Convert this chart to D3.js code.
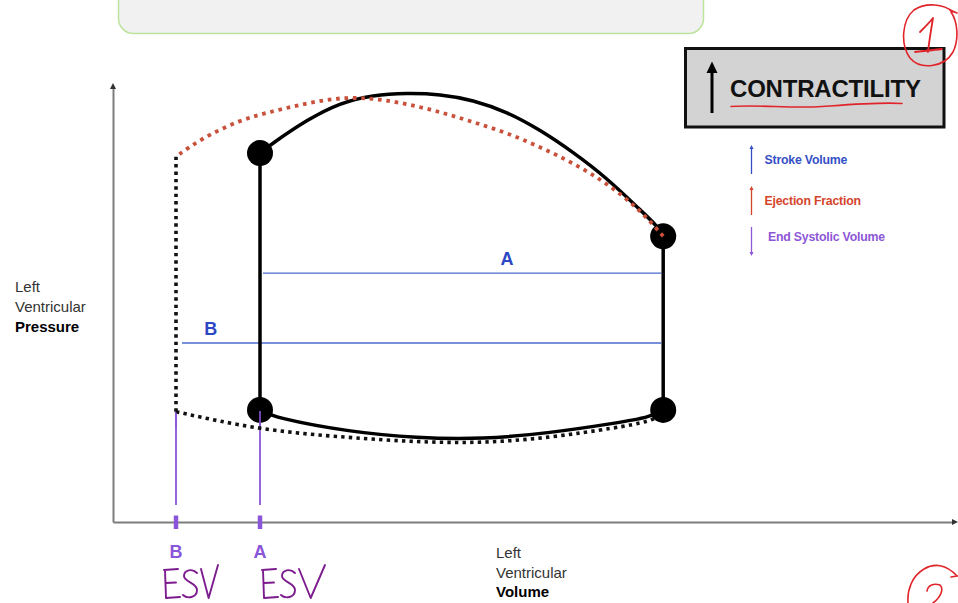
<!DOCTYPE html>
<html>
<head>
<meta charset="utf-8">
<script src="https://cdn.jsdelivr.net/npm/d3@7"></script>
<style>
  html, body { margin: 0; padding: 0; background: #ffffff; }
  svg { display: block; }
  text { font-family: "Liberation Sans", Arial, Helvetica, sans-serif; }
</style>
</head>
<body>
<svg id="chart" width="958" height="603"></svg>
<script>
// Pressure–volume loops: baseline loop (A) and loop after increased contractility (B)
const volumeDomain = [0, 200];
const pressureDomain = [0, 120];

const esvA = 35;          // end-systolic volume, loop A
const esvB = 15;          // end-systolic volume, loop B
const edv = 131;          // end-diastolic volume (shared)
const espA = 102;         // end-systolic pressure, loop A
const espB = 101;         // end-systolic pressure, loop B
const edpA = 31;          // end-diastolic pressure, loop A
const edpB = 30.5;        // pressure at start of filling, loop B
const aorticOpen = 79;    // pressure where ejection begins

// Ejection phase (from EDV towards ESV), [volume, pressure]
const ejectionA = [[131, 79], [129.8, 81.6], [125.5, 86.3], [117.6, 95.1], [109.5, 102.3],
  [101.7, 108.4], [93.8, 113.4], [85.7, 116.7], [77.9, 118.3], [70.0, 118.6],
  [61.9, 118.1], [54.0, 115.9], [46.2, 111.2], [38.1, 104.8], [35, 102]];
const ejectionB = [[131, 79], [125.5, 86.3], [117.6, 93.7], [109.5, 99.3], [101.7, 103.7],
  [93.8, 107.6], [85.7, 110.6], [77.9, 113.4], [70.0, 115.6], [61.9, 117.2],
  [54.0, 117.4], [46.2, 115.8], [38.1, 113.6], [30.2, 111.2], [20.7, 105.8], [15, 101]];

// Filling phase (from ESV towards EDV), [volume, pressure]
const fillingA = [[35, 31], [38.6, 28.8], [56.4, 24.9], [72.4, 23.2], [88.1, 22.9],
  [104.0, 24.6], [120.0, 27.4], [127.9, 29.0], [131, 31]];
const fillingB = [[15, 30.5], [35, 25.4], [56.4, 23.3], [72.4, 22.1], [88.1, 21.8],
  [104.0, 23.3], [120.0, 26.1], [127.9, 27.8], [131, 29.9]];

// Stroke volume bars drawn across each loop
const svLabels = ["A", "B"];
const svStart = [esvA, esvB];
const svPressure = [68.8, 49.5];
const svLabelVolume = [93.8, 23.3];

// ESV markers on the volume axis
const esvLabels = ["B", "A"];
const esvValues = [esvB, esvA];
const esvMarkerTop = [edpB, edpA];
const esvMarkerBottom = 4.7;

// Effects of increased contractility
const effectLabels = ["Stroke Volume", "Ejection Fraction", "End Systolic Volume"];
const effectDirection = ["up", "up", "down"];
const effectColors = ["#3550c6", "#d4452c", "#8d57d6"];

const yLabelLines = ["Left", "Ventricular", "Pressure"];
const xLabelLines = ["Left", "Ventricular", "Volume"];

const svg = d3.select("#chart");

const x = d3.scaleLinear().domain(volumeDomain).range([113, 953]);
const y = d3.scaleLinear().domain(pressureDomain).range([522, 88]);

// Header panel at the top
svg.append("rect")
  .attr("x", 118.5).attr("y", -20).attr("width", 585).attr("height", 53.5)
  .attr("rx", 15).attr("ry", 15)
  .attr("fill", "#f1f1f1").attr("stroke", "#bde39c").attr("stroke-width", 1.5);

// Axes (no ticks, arrowed ends)
const axisG = svg.append("g");
axisG.append("g").attr("transform", `translate(0,${y(0)})`)
  .call(d3.axisBottom(x).tickValues([]).tickSizeOuter(0))
  .select(".domain").attr("stroke", "#7d7d7d").attr("stroke-width", 2);
axisG.append("g").attr("transform", `translate(${x(0)},0)`)
  .call(d3.axisLeft(y).tickValues([]).tickSizeOuter(0))
  .select(".domain").attr("stroke", "#7d7d7d").attr("stroke-width", 2);
axisG.append("path")
  .attr("d", `M${x(0) - 3},${y(pressureDomain[1]) + 1} L${x(0)},${y(pressureDomain[1]) - 5} L${x(0) + 3},${y(pressureDomain[1]) + 1} Z`)
  .attr("fill", "#333");
axisG.append("path")
  .attr("d", `M${x(volumeDomain[1]) - 1},${y(0) - 3} L${x(volumeDomain[1]) + 5},${y(0)} L${x(volumeDomain[1]) - 1},${y(0) + 3} Z`)
  .attr("fill", "#333");

// Axis titles
const yTitle = svg.append("text").attr("x", 15).attr("y", 292).attr("font-size", 15);
yLabelLines.forEach((t, i) => {
  yTitle.append("tspan").attr("x", 15).attr("dy", i === 0 ? 0 : 20)
    .attr("fill", i === 2 ? "#000" : "#333")
    .attr("font-weight", i === 2 ? "bold" : "normal").text(t);
});
const xTitle = svg.append("text").attr("x", 496).attr("y", 558).attr("font-size", 15);
xLabelLines.forEach((t, i) => {
  xTitle.append("tspan").attr("x", 496).attr("dy", i === 0 ? 0 : 19.5)
    .attr("fill", i === 2 ? "#000" : "#333")
    .attr("font-weight", i === 2 ? "bold" : "normal").text(t);
});

// ESV markers (purple)
const purple = "#8b55d9";
esvValues.forEach((v, i) => {
  svg.append("line")
    .attr("x1", x(v)).attr("x2", x(v))
    .attr("y1", y(esvMarkerTop[i])).attr("y2", y(esvMarkerBottom))
    .attr("stroke", purple).attr("stroke-width", 1.8);
  svg.append("line")
    .attr("x1", x(v)).attr("x2", x(v))
    .attr("y1", y(0) - 6.5).attr("y2", y(0) + 7)
    .attr("stroke", purple).attr("stroke-width", 4.5);
  svg.append("text")
    .attr("x", x(v)).attr("y", 558).attr("text-anchor", "middle")
    .attr("font-size", 18).attr("font-weight", "bold").attr("fill", purple)
    .text(esvLabels[i]);
});

// Stroke volume bars (blue)
const svColor = "#4a6bd0";
svLabels.forEach((lab, i) => {
  svg.append("line")
    .attr("x1", x(svStart[i]) + (i === 0 ? 3 : 6)).attr("x2", x(edv) - 2)
    .attr("y1", y(svPressure[i])).attr("y2", y(svPressure[i]))
    .attr("stroke", svColor).attr("stroke-width", 1.4);
  svg.append("text")
    .attr("x", x(svLabelVolume[i])).attr("y", y(svPressure[i]) - 8)
    .attr("text-anchor", "middle").attr("font-size", 18).attr("font-weight", "bold")
    .attr("fill", "#2c48c4").text(lab);
});

const line = d3.line().x(d => x(d[0])).y(d => y(d[1])).curve(d3.curveBasis);

// Loop B: dotted outline
svg.append("path").datum(fillingB).attr("d", line)
  .attr("fill", "none").attr("stroke", "#111").attr("stroke-width", 3.6)
  .attr("stroke-dasharray", "3.4 4.2");
svg.append("line")
  .attr("x1", x(esvB)).attr("x2", x(esvB)).attr("y1", y(espB)).attr("y2", y(edpB))
  .attr("stroke", "#111").attr("stroke-width", 3.6).attr("stroke-dasharray", "3.4 4");

// Loop A: solid outline
svg.append("path").datum(fillingA).attr("d", line)
  .attr("fill", "none").attr("stroke", "#000").attr("stroke-width", 3.5);
svg.append("path").datum(ejectionA).attr("d", line)
  .attr("fill", "none").attr("stroke", "#000").attr("stroke-width", 3.5);
svg.append("line")
  .attr("x1", x(esvA)).attr("x2", x(esvA)).attr("y1", y(espA)).attr("y2", y(edpA))
  .attr("stroke", "#000").attr("stroke-width", 3.5);
svg.append("line")
  .attr("x1", x(edv)).attr("x2", x(edv)).attr("y1", y(aorticOpen)).attr("y2", y(edpA))
  .attr("stroke", "#000").attr("stroke-width", 3.5);

// Valve events of loop A
const corners = [[esvA, espA], [esvA, edpA], [edv, aorticOpen], [edv, edpA]];
svg.selectAll("circle.corner").data(corners).join("circle")
  .attr("class", "corner")
  .attr("cx", d => x(d[0])).attr("cy", d => y(d[1])).attr("r", 13)
  .attr("fill", "#000");

// Loop B ejection: red dotted curve
svg.append("path").datum(ejectionB).attr("d", line)
  .attr("fill", "none").attr("stroke", "#c9503a").attr("stroke-width", 3.8)
  .attr("stroke-dasharray", "3.6 4.8");

// Purple markers over the lower corners
esvValues.forEach((v, i) => {
  svg.append("line")
    .attr("x1", x(v)).attr("x2", x(v))
    .attr("y1", y(esvMarkerTop[i]) + 1).attr("y2", y(esvMarkerTop[i]) + 16)
    .attr("stroke", purple).attr("stroke-width", 1.8).attr("opacity", 0.9);
});

// Contractility box
svg.append("rect")
  .attr("x", 685.5).attr("y", 48.5).attr("width", 258.5).attr("height", 78.5)
  .attr("fill", "#d3d3d3").attr("stroke", "#111").attr("stroke-width", 3);
svg.append("line").attr("x1", 712).attr("x2", 712).attr("y1", 113).attr("y2", 70)
  .attr("stroke", "#000").attr("stroke-width", 3);
svg.append("path").attr("d", "M706.5,73 L712,61.5 L717.5,73 Z").attr("fill", "#000");
svg.append("text").attr("x", 730).attr("y", 97).attr("font-size", 24)
  .attr("font-weight", "bold").attr("fill", "#111").attr("letter-spacing", -0.2)
  .text("CONTRACTILITY");

// Effects legend
const legendTop = [145, 186, 225];
effectLabels.forEach((t, i) => {
  const x0 = 751.5, y0 = legendTop[i], y1 = y0 + 31;
  const c = effectColors[i];
  svg.append("line").attr("x1", x0).attr("x2", x0).attr("y1", y0 + 2).attr("y2", y1 - 2)
    .attr("stroke", c).attr("stroke-width", 1.3);
  const tip = effectDirection[i] === "up"
    ? `M${x0 - 2},${y0 + 4} L${x0},${y0} L${x0 + 2},${y0 + 4} Z`
    : `M${x0 - 2},${y1 - 4} L${x0},${y1} L${x0 + 2},${y1 - 4} Z`;
  svg.append("path").attr("d", tip).attr("fill", c);
  svg.append("text").attr("x", i === 2 ? 768 : 764.5).attr("y", [164, 205, 241][i])
    .attr("font-size", 12.3).attr("font-weight", "bold").attr("fill", c)
    .attr("letter-spacing", -0.2).text(t);
});

// Handwritten notes
const pen = svg.append("g").attr("fill", "none").attr("stroke-linecap", "round").attr("stroke-linejoin", "round");
const red = "#e0242a";
pen.append("path")
  .attr("d", "M731,106.5 C760,104.5 790,108.5 822,106.5 C850,104.5 880,102 902,103.5")
  .attr("stroke", red).attr("stroke-width", 1.6);
// circled 1
pen.append("path")
  .attr("d", "M953,12 C944,4 926,2 914,10 C902,20 900,44 910,58 C920,70 944,68 953,52 C959,40 958,22 951,12")
  .attr("stroke", red).attr("stroke-width", 1.6);
pen.append("path").attr("d", "M950,10 L957,13").attr("stroke", red).attr("stroke-width", 1.6);
pen.append("path").attr("d", "M920,32 C925,27 930,22 933,18 C931,30 929,42 928,52")
  .attr("stroke", red).attr("stroke-width", 1.8);
pen.append("path").attr("d", "M915,52 C924,51 934,50 942,49")
  .attr("stroke", red).attr("stroke-width", 1.8);
// circled 2 (partly off the page)
pen.append("path")
  .attr("d", "M908,603 C907,590 912,576 924,569 C934,563 946,564 957,576")
  .attr("stroke", red).attr("stroke-width", 1.6);
pen.append("path").attr("d", "M951,577 L957,576").attr("stroke", red).attr("stroke-width", 1.6);
pen.append("path")
  .attr("d", "M927,591 C928,585 934,583 940,585 C944,589 941,597 933,603")
  .attr("stroke", red).attr("stroke-width", 1.6);

// "ESV" notes under the markers
const ink = "#7c1c8e";
function esvNote(gx, gy, vWidth) {
  const g = pen.append("g").attr("transform", `translate(${gx},${gy})`)
    .attr("stroke", ink).attr("stroke-width", 1.9);
  g.append("path").attr("d", "M1,2 L2,30 M0,2 L14,1 M2,15 L12,14.5 M2,30 L16,29");
  g.append("path").attr("d", "M33,5 C28,0 20,2 20,8 C20,14 33,15 33,22 C33,30 23,31 19,27");
  g.append("path").attr("d", `M37,1 L${37 + vWidth * 0.45},30 L${37 + vWidth},${-3}`);
}
esvNote(164, 568, 17);
esvNote(262, 568, 26);
</script>
</body>
</html>
